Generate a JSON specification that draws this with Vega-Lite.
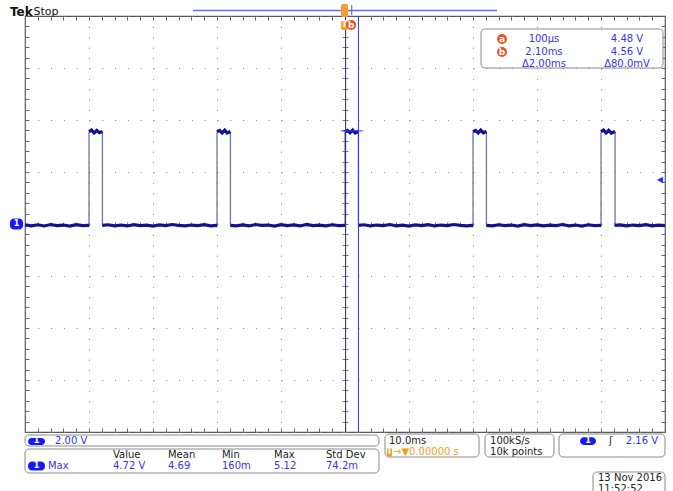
{
  "$schema": "https://vega.github.io/schema/vega-lite/v6.json",
  "width": 640,
  "height": 416,
  "autosize": {"type": "none"},
  "padding": {"left": 25, "top": 16, "right": 8, "bottom": 59},
  "background": "white",
  "config": {"view": {"stroke": "#5a5a5a", "strokeWidth": 1.2}, "font": "DejaVu Sans"},
  "resolve": {"axis": {"x": "independent", "y": "independent"}},
  "datasets": {
    "trace": [
      {"t": -50, "v": -0.035, "s": "L0"}, {"t": -49, "v": -0.07, "s": "L0"}, {"t": -48, "v": -0.03, "s": "L0"}, {"t": -47, "v": -0.075, "s": "L0"}, {"t": -46, "v": -0.02, "s": "L0"}, {"t": -45, "v": -0.06, "s": "L0"}, {"t": -44, "v": -0.04, "s": "L0"}, {"t": -43, "v": -0.08, "s": "L0"}, {"t": -42, "v": -0.025, "s": "L0"}, {"t": -41, "v": -0.065, "s": "L0"}, {"t": -40, "v": -0.05, "s": "L0"},
      {"t": -40, "v": 3.55, "s": "H1"}, {"t": -39.6, "v": 3.61, "s": "H1"}, {"t": -39.2, "v": 3.5, "s": "H1"}, {"t": -38.8, "v": 3.6, "s": "H1"}, {"t": -38.4, "v": 3.51, "s": "H1"}, {"t": -37.9, "v": 3.56, "s": "H1"},
      {"t": -37.9, "v": -0.05, "s": "L1"}, {"t": -37, "v": -0.03, "s": "L1"}, {"t": -36, "v": -0.07, "s": "L1"}, {"t": -35, "v": -0.04, "s": "L1"}, {"t": -34, "v": -0.075, "s": "L1"}, {"t": -33, "v": -0.025, "s": "L1"}, {"t": -32, "v": -0.06, "s": "L1"}, {"t": -31, "v": -0.045, "s": "L1"}, {"t": -30, "v": -0.08, "s": "L1"}, {"t": -29, "v": -0.035, "s": "L1"}, {"t": -28, "v": -0.065, "s": "L1"}, {"t": -27, "v": -0.02, "s": "L1"}, {"t": -26, "v": -0.055, "s": "L1"}, {"t": -25, "v": -0.075, "s": "L1"}, {"t": -24, "v": -0.04, "s": "L1"}, {"t": -23, "v": -0.065, "s": "L1"}, {"t": -22, "v": -0.025, "s": "L1"}, {"t": -21, "v": -0.07, "s": "L1"}, {"t": -20, "v": -0.05, "s": "L1"},
      {"t": -20, "v": 3.55, "s": "H2"}, {"t": -19.6, "v": 3.6, "s": "H2"}, {"t": -19.2, "v": 3.5, "s": "H2"}, {"t": -18.8, "v": 3.61, "s": "H2"}, {"t": -18.4, "v": 3.5, "s": "H2"}, {"t": -17.9, "v": 3.56, "s": "H2"},
      {"t": -17.9, "v": -0.05, "s": "L2"}, {"t": -17, "v": -0.07, "s": "L2"}, {"t": -16, "v": -0.035, "s": "L2"}, {"t": -15, "v": -0.075, "s": "L2"}, {"t": -14, "v": -0.02, "s": "L2"}, {"t": -13, "v": -0.055, "s": "L2"}, {"t": -12, "v": -0.04, "s": "L2"}, {"t": -11, "v": -0.08, "s": "L2"}, {"t": -10, "v": -0.025, "s": "L2"}, {"t": -9, "v": -0.065, "s": "L2"}, {"t": -8, "v": -0.035, "s": "L2"}, {"t": -7, "v": -0.075, "s": "L2"}, {"t": -6, "v": -0.015, "s": "L2"}, {"t": -5, "v": -0.06, "s": "L2"}, {"t": -4, "v": -0.045, "s": "L2"}, {"t": -3, "v": -0.07, "s": "L2"}, {"t": -2, "v": -0.03, "s": "L2"}, {"t": -1, "v": -0.065, "s": "L2"}, {"t": 0, "v": -0.05, "s": "L2"},
      {"t": 0, "v": 3.55, "s": "H3"}, {"t": 0.4, "v": 3.6, "s": "H3"}, {"t": 0.8, "v": 3.51, "s": "H3"}, {"t": 1.2, "v": 3.61, "s": "H3"}, {"t": 1.6, "v": 3.5, "s": "H3"}, {"t": 2.1, "v": 3.56, "s": "H3"},
      {"t": 2.1, "v": -0.05, "s": "L3"}, {"t": 3, "v": -0.03, "s": "L3"}, {"t": 4, "v": -0.075, "s": "L3"}, {"t": 5, "v": -0.04, "s": "L3"}, {"t": 6, "v": -0.065, "s": "L3"}, {"t": 7, "v": -0.02, "s": "L3"}, {"t": 8, "v": -0.07, "s": "L3"}, {"t": 9, "v": -0.045, "s": "L3"}, {"t": 10, "v": -0.08, "s": "L3"}, {"t": 11, "v": -0.035, "s": "L3"}, {"t": 12, "v": -0.06, "s": "L3"}, {"t": 13, "v": -0.025, "s": "L3"}, {"t": 14, "v": -0.075, "s": "L3"}, {"t": 15, "v": -0.04, "s": "L3"}, {"t": 16, "v": -0.065, "s": "L3"}, {"t": 17, "v": -0.02, "s": "L3"}, {"t": 18, "v": -0.055, "s": "L3"}, {"t": 19, "v": -0.075, "s": "L3"}, {"t": 20, "v": -0.05, "s": "L3"},
      {"t": 20, "v": 3.55, "s": "H4"}, {"t": 20.4, "v": 3.6, "s": "H4"}, {"t": 20.8, "v": 3.5, "s": "H4"}, {"t": 21.2, "v": 3.61, "s": "H4"}, {"t": 21.6, "v": 3.51, "s": "H4"}, {"t": 22.1, "v": 3.56, "s": "H4"},
      {"t": 22.1, "v": -0.05, "s": "L4"}, {"t": 23, "v": -0.07, "s": "L4"}, {"t": 24, "v": -0.03, "s": "L4"}, {"t": 25, "v": -0.065, "s": "L4"}, {"t": 26, "v": -0.04, "s": "L4"}, {"t": 27, "v": -0.08, "s": "L4"}, {"t": 28, "v": -0.025, "s": "L4"}, {"t": 29, "v": -0.06, "s": "L4"}, {"t": 30, "v": -0.035, "s": "L4"}, {"t": 31, "v": -0.075, "s": "L4"}, {"t": 32, "v": -0.045, "s": "L4"}, {"t": 33, "v": -0.065, "s": "L4"}, {"t": 34, "v": -0.02, "s": "L4"}, {"t": 35, "v": -0.07, "s": "L4"}, {"t": 36, "v": -0.04, "s": "L4"}, {"t": 37, "v": -0.08, "s": "L4"}, {"t": 38, "v": -0.03, "s": "L4"}, {"t": 39, "v": -0.06, "s": "L4"}, {"t": 40, "v": -0.05, "s": "L4"},
      {"t": 40, "v": 3.55, "s": "H5"}, {"t": 40.4, "v": 3.61, "s": "H5"}, {"t": 40.8, "v": 3.5, "s": "H5"}, {"t": 41.2, "v": 3.6, "s": "H5"}, {"t": 41.6, "v": 3.5, "s": "H5"}, {"t": 42.2, "v": 3.56, "s": "H5"},
      {"t": 42.2, "v": -0.05, "s": "L5"}, {"t": 43, "v": -0.035, "s": "L5"}, {"t": 44, "v": -0.075, "s": "L5"}, {"t": 45, "v": -0.04, "s": "L5"}, {"t": 46, "v": -0.065, "s": "L5"}, {"t": 47, "v": -0.025, "s": "L5"}, {"t": 48, "v": -0.07, "s": "L5"}, {"t": 49, "v": -0.045, "s": "L5"}, {"t": 50, "v": -0.06, "s": "L5"}
    ],
    "edges": [
      {"t": -40, "lo": -0.05, "hi": 3.55}, {"t": -37.9, "lo": -0.05, "hi": 3.55},
      {"t": -20, "lo": -0.05, "hi": 3.55}, {"t": -17.9, "lo": -0.05, "hi": 3.55},
      {"t": 0, "lo": -0.05, "hi": 3.55}, {"t": 2.1, "lo": -0.05, "hi": 3.55},
      {"t": 20, "lo": -0.05, "hi": 3.55}, {"t": 22.1, "lo": -0.05, "hi": 3.55},
      {"t": 40, "lo": -0.05, "hi": 3.55}, {"t": 42.2, "lo": -0.05, "hi": 3.55}
    ],
    "cursors": [{"t": 0.1, "name": "a"}, {"t": 2.1, "name": "b"}],
    "boxes": [
      {"x": 21.25, "x2": 49.69, "y": 7.5, "y2": 6.0},
      {"x": -50, "x2": 5.31, "y": -8.115, "y2": -8.538},
      {"x": -50, "x2": 5.31, "y": -8.654, "y2": -9.577},
      {"x": 6.25, "x2": 20.94, "y": -8.077, "y2": -8.962},
      {"x": 21.875, "x2": 32.66, "y": -8.077, "y2": -8.962},
      {"x": 33.44, "x2": 50, "y": -8.077, "y2": -8.962},
      {"x": 38.75, "x2": 50, "y": -9.538, "y2": -10.6}
    ],
    "badges": [
      {"x": -49.53, "x2": -46.875, "y": -8.23, "y2": -8.5},
      {"x": -49.53, "x2": -46.875, "y": -9.13, "y2": -9.48},
      {"x": 36.72, "x2": 39.22, "y": -8.2, "y2": -8.5},
      {"x": -52.35, "x2": -50.3, "y": 0.21, "y2": -0.21}
    ],
    "orangeTags": [
      {"x": -0.625, "x2": 0.47, "y": 8.46, "y2": 7.96},
      {"x": -0.625, "x2": 0.47, "y": 7.85, "y2": 7.46},
      {"x": 6.56, "x2": 7.34, "y": -8.6, "y2": -8.95}
    ],
    "circles": [
      {"x": 24.53, "x2": 0, "y": 7.115, "label": "a"},
      {"x": 24.53, "y": 6.615, "label": "b"},
      {"x": 0.97, "y": 7.654, "label": "b"}
    ],
    "texts": [
      {"x": -45.31, "y": -8.346, "label": "2.00 V", "role": "blueL"},
      {"x": -46.41, "y": -9.308, "label": "Max", "role": "blueL"},
      {"x": -36.25, "y": -9.308, "label": "4.72 V", "role": "blueL"},
      {"x": -27.66, "y": -9.308, "label": "4.69", "role": "blueL"},
      {"x": -19.22, "y": -9.308, "label": "160m", "role": "blueL"},
      {"x": -11.09, "y": -9.308, "label": "5.12", "role": "blueL"},
      {"x": -2.97, "y": -9.308, "label": "74.2m", "role": "blueL"},
      {"x": -36.25, "y": -8.885, "label": "Value", "role": "darkL"},
      {"x": -27.66, "y": -8.885, "label": "Mean", "role": "darkL"},
      {"x": -19.22, "y": -8.885, "label": "Min", "role": "darkL"},
      {"x": -11.09, "y": -8.885, "label": "Max", "role": "darkL"},
      {"x": -2.97, "y": -8.885, "label": "Std Dev", "role": "darkL"},
      {"x": 6.875, "y": -8.346, "label": "10.0ms", "role": "darkL"},
      {"x": 22.66, "y": -8.346, "label": "100kS/s", "role": "darkL"},
      {"x": 22.66, "y": -8.769, "label": "10k points", "role": "darkL"},
      {"x": 39.53, "y": -9.75, "label": "13 Nov 2016", "role": "darkL"},
      {"x": 39.53, "y": -10.2, "label": "11:52:52", "role": "darkL"},
      {"x": 41.25, "y": -8.346, "label": "ʃ", "role": "darkL"},
      {"x": 31.09, "y": 7.115, "label": "100µs", "role": "blueC"},
      {"x": 31.09, "y": 6.615, "label": "2.10ms", "role": "blueC"},
      {"x": 31.09, "y": 6.135, "label": "Δ2.00ms", "role": "blueC"},
      {"x": 44.06, "y": 7.115, "label": "4.48 V", "role": "blueC"},
      {"x": 44.06, "y": 6.615, "label": "4.56 V", "role": "blueC"},
      {"x": 44.06, "y": 6.135, "label": "Δ80.0mV", "role": "blueC"},
      {"x": 46.4, "y": -8.346, "label": "2.16 V", "role": "blueC"},
      {"x": 7.5, "y": -8.769, "label": "→▼0.00000 s", "role": "orange"},
      {"x": -48.2, "y": -8.365, "label": "1", "role": "white"},
      {"x": -48.2, "y": -9.305, "label": "1", "role": "white"},
      {"x": 37.97, "y": -8.35, "label": "1", "role": "white"},
      {"x": -51.33, "y": 0.0, "label": "1", "role": "white"},
      {"x": -0.08, "y": 7.655, "label": "T", "role": "white"},
      {"x": 6.95, "y": -8.775, "label": "T", "role": "white"},
      {"x": 49.2, "y": 1.69, "label": "◀", "role": "arrow"}
    ]
  },
  "layer": [
    {
      "mark": {"type": "rule", "color": "#c4c4c4", "strokeWidth": 1},
      "encoding": {
        "x": {"datum": -50, "type": "quantitative", "scale": {"domain": [-50, 50], "nice": false, "zero": false},
          "axis": {"orient": "bottom", "offset": -210, "values": [-50,-48,-46,-44,-42,-40,-38,-36,-34,-32,-30,-28,-26,-24,-22,-20,-18,-16,-14,-12,-10,-8,-6,-4,-2,0,2,4,6,8,10,12,14,16,18,20,22,24,26,28,30,32,34,36,38,40,42,44,46,48,50], "ticks": true, "tickSize": 4, "tickColor": "#777777", "domain": false, "labels": false, "grid": false, "title": null}},
        "x2": {"datum": 50},
        "y": {"datum": 0, "type": "quantitative", "scale": {"domain": [-8, 8], "nice": false, "zero": false},
          "axis": {"orient": "left", "offset": -323, "values": [-8,-7.6,-7.2,-6.8,-6.4,-6,-5.6,-5.2,-4.8,-4.4,-4,-3.6,-3.2,-2.8,-2.4,-2,-1.6,-1.2,-0.8,-0.4,0,0.4,0.8,1.2,1.6,2,2.4,2.8,3.2,3.6,4,4.4,4.8,5.2,5.6,6,6.4,6.8,7.2,7.6,8], "ticks": true, "tickSize": 6, "tickColor": "#777777", "domain": false, "labels": false, "grid": false, "title": null}}
      }
    },
    {
      "data": {"name": "edges"},
      "mark": {"type": "rule", "color": "#7070b8", "strokeWidth": 1.3},
      "encoding": {
        "x": {"field": "t", "type": "quantitative", "scale": {"domain": [-50, 50], "nice": false, "zero": false},
          "axis": {"orient": "bottom", "offset": -416, "values": [-50,-48,-46,-44,-42,-40,-38,-36,-34,-32,-30,-28,-26,-24,-22,-20,-18,-16,-14,-12,-10,-8,-6,-4,-2,0,2,4,6,8,10,12,14,16,18,20,22,24,26,28,30,32,34,36,38,40,42,44,46,48,50], "ticks": true, "tickSize": 4, "tickColor": "#666666", "domain": false, "labels": false, "grid": false, "title": null}},
        "y": {"field": "lo", "type": "quantitative", "scale": {"domain": [-8, 8], "nice": false, "zero": false},
          "axis": {"orient": "right", "offset": -640, "values": [-8,-7.6,-7.2,-6.8,-6.4,-6,-5.6,-5.2,-4.8,-4.4,-4,-3.6,-3.2,-2.8,-2.4,-2,-1.6,-1.2,-0.8,-0.4,0,0.4,0.8,1.2,1.6,2,2.4,2.8,3.2,3.6,4,4.4,4.8,5.2,5.6,6,6.4,6.8,7.2,7.6,8], "ticks": true, "tickSize": 4, "tickColor": "#666666", "domain": false, "labels": false, "grid": false, "title": null}},
        "y2": {"field": "hi"}
      }
    },
    {
      "data": {"name": "trace"},
      "mark": {"type": "line", "color": "#12128c", "strokeWidth": 3.2, "interpolate": "linear", "strokeJoin": "miter"},
      "encoding": {
        "x": {"field": "t", "type": "quantitative", "scale": {"domain": [-50, 50], "nice": false, "zero": false},
          "axis": {"orient": "bottom", "values": [-50,-40,-30,-20,-10,0,10,20,30,40,50], "grid": true, "gridDash": [1, 9.4], "gridColor": "#858585", "gridWidth": 1, "ticks": false, "labels": false, "domain": false, "title": null}},
        "y": {"field": "v", "type": "quantitative", "scale": {"domain": [-8, 8], "nice": false, "zero": false},
          "axis": {"orient": "left", "values": [-8,-6,-4,-2,0,2,4,6,8], "grid": true, "gridDash": [1, 11.8], "gridColor": "#858585", "gridWidth": 1, "ticks": false, "labels": false, "domain": false, "title": null}},
        "detail": {"field": "s", "type": "nominal"}
      }
    },
    {
      "data": {"name": "cursors"},
      "mark": {"type": "rule", "strokeWidth": 1},
      "encoding": {
        "x": {"field": "t", "type": "quantitative", "scale": {"domain": [-50, 50], "nice": false, "zero": false},
          "axis": {"orient": "top", "offset": -416, "values": [-50,-48,-46,-44,-42,-40,-38,-36,-34,-32,-30,-28,-26,-24,-22,-20,-18,-16,-14,-12,-10,-8,-6,-4,-2,0,2,4,6,8,10,12,14,16,18,20,22,24,26,28,30,32,34,36,38,40,42,44,46,48,50], "ticks": true, "tickSize": 4, "tickColor": "#666666", "domain": false, "labels": false, "grid": false, "title": null}},
        "y": {"datum": -8, "type": "quantitative", "scale": {"domain": [-8, 8], "nice": false, "zero": false},
          "axis": {"orient": "left", "offset": -640, "values": [-8,-7.6,-7.2,-6.8,-6.4,-6,-5.6,-5.2,-4.8,-4.4,-4,-3.6,-3.2,-2.8,-2.4,-2,-1.6,-1.2,-0.8,-0.4,0,0.4,0.8,1.2,1.6,2,2.4,2.8,3.2,3.6,4,4.4,4.8,5.2,5.6,6,6.4,6.8,7.2,7.6,8], "ticks": true, "tickSize": 4, "tickColor": "#666666", "domain": false, "labels": false, "grid": false, "title": null}},
        "y2": {"datum": 8},
        "color": {"field": "name", "type": "nominal", "scale": {"domain": ["a", "b"], "range": ["#26266e", "#3434ff"]}, "legend": null}
      }
    },
    {
      "data": {"values": [{"x": -0.6, "x2": 2.8, "y": 3.58}]},
      "mark": {"type": "rule", "color": "#3434ff", "strokeWidth": 1},
      "encoding": {
        "x": {"field": "x", "type": "quantitative", "scale": {"domain": [-50, 50], "nice": false, "zero": false}, "axis": null},
        "x2": {"field": "x2"},
        "y": {"field": "y", "type": "quantitative", "scale": {"domain": [-8, 8], "nice": false, "zero": false}, "axis": null}
      }
    },
    {
      "data": {"values": [{"x": -23.75, "x2": 23.75, "y": 8.21}]},
      "mark": {"type": "rule", "color": "#6a6af0", "strokeWidth": 1.5},
      "encoding": {
        "x": {"field": "x", "type": "quantitative", "scale": {"domain": [-50, 50], "nice": false, "zero": false}, "axis": null},
        "x2": {"field": "x2"},
        "y": {"field": "y", "type": "quantitative", "scale": {"domain": [-8, 8], "nice": false, "zero": false}, "axis": null}
      }
    },
    {
      "data": {"values": [{"x": 1.05, "y": 8.42, "y2": 8.04}]},
      "mark": {"type": "rule", "color": "#5050f0", "strokeWidth": 1},
      "encoding": {
        "x": {"field": "x", "type": "quantitative", "scale": {"domain": [-50, 50], "nice": false, "zero": false}, "axis": null},
        "y": {"field": "y", "type": "quantitative", "scale": {"domain": [-8, 8], "nice": false, "zero": false}, "axis": null},
        "y2": {"field": "y2"}
      }
    },
    {
      "data": {"name": "boxes"},
      "mark": {"type": "rect", "fill": "white", "stroke": "#8a8a8a", "strokeWidth": 1, "cornerRadius": 4},
      "encoding": {
        "x": {"field": "x", "type": "quantitative", "scale": {"domain": [-50, 50], "nice": false, "zero": false}, "axis": null},
        "x2": {"field": "x2"},
        "y": {"field": "y", "type": "quantitative", "scale": {"domain": [-8, 8], "nice": false, "zero": false}, "axis": null},
        "y2": {"field": "y2"}
      }
    },
    {
      "data": {"name": "badges"},
      "mark": {"type": "rect", "fill": "#1818f4", "cornerRadius": 4},
      "encoding": {
        "x": {"field": "x", "type": "quantitative", "scale": {"domain": [-50, 50], "nice": false, "zero": false}, "axis": null},
        "x2": {"field": "x2"},
        "y": {"field": "y", "type": "quantitative", "scale": {"domain": [-8, 8], "nice": false, "zero": false}, "axis": null},
        "y2": {"field": "y2"}
      }
    },
    {
      "data": {"name": "orangeTags"},
      "mark": {"type": "rect", "fill": "#f0a030", "cornerRadius": 2},
      "encoding": {
        "x": {"field": "x", "type": "quantitative", "scale": {"domain": [-50, 50], "nice": false, "zero": false}, "axis": null},
        "x2": {"field": "x2"},
        "y": {"field": "y", "type": "quantitative", "scale": {"domain": [-8, 8], "nice": false, "zero": false}, "axis": null},
        "y2": {"field": "y2"}
      }
    },
    {
      "data": {"name": "circles"},
      "mark": {"type": "point", "shape": "circle", "filled": true, "color": "#e8531f", "size": 100, "opacity": 1},
      "encoding": {
        "x": {"field": "x", "type": "quantitative", "scale": {"domain": [-50, 50], "nice": false, "zero": false}, "axis": null},
        "y": {"field": "y", "type": "quantitative", "scale": {"domain": [-8, 8], "nice": false, "zero": false}, "axis": null}
      }
    },
    {
      "data": {"name": "circles"},
      "mark": {"type": "text", "color": "white", "font": "DejaVu Sans", "fontSize": 9, "fontWeight": "bold", "align": "center", "baseline": "middle"},
      "encoding": {
        "x": {"field": "x", "type": "quantitative", "scale": {"domain": [-50, 50], "nice": false, "zero": false}, "axis": null},
        "y": {"field": "y", "type": "quantitative", "scale": {"domain": [-8, 8], "nice": false, "zero": false}, "axis": null},
        "text": {"field": "label"}
      }
    },
    {
      "data": {"name": "texts"},
      "transform": [{"filter": "datum.role === 'blueL'"}],
      "mark": {"type": "text", "color": "#3434ec", "font": "DejaVu Sans", "fontSize": 10, "align": "left", "baseline": "middle"},
      "encoding": {
        "x": {"field": "x", "type": "quantitative", "scale": {"domain": [-50, 50], "nice": false, "zero": false}, "axis": null},
        "y": {"field": "y", "type": "quantitative", "scale": {"domain": [-8, 8], "nice": false, "zero": false}, "axis": null},
        "text": {"field": "label"}
      }
    },
    {
      "data": {"name": "texts"},
      "transform": [{"filter": "datum.role === 'darkL'"}],
      "mark": {"type": "text", "color": "#222222", "font": "DejaVu Sans", "fontSize": 10, "align": "left", "baseline": "middle"},
      "encoding": {
        "x": {"field": "x", "type": "quantitative", "scale": {"domain": [-50, 50], "nice": false, "zero": false}, "axis": null},
        "y": {"field": "y", "type": "quantitative", "scale": {"domain": [-8, 8], "nice": false, "zero": false}, "axis": null},
        "text": {"field": "label"}
      }
    },
    {
      "data": {"name": "texts"},
      "transform": [{"filter": "datum.role === 'blueC'"}],
      "mark": {"type": "text", "color": "#3434ec", "font": "DejaVu Sans", "fontSize": 10, "align": "center", "baseline": "middle"},
      "encoding": {
        "x": {"field": "x", "type": "quantitative", "scale": {"domain": [-50, 50], "nice": false, "zero": false}, "axis": null},
        "y": {"field": "y", "type": "quantitative", "scale": {"domain": [-8, 8], "nice": false, "zero": false}, "axis": null},
        "text": {"field": "label"}
      }
    },
    {
      "data": {"name": "texts"},
      "transform": [{"filter": "datum.role === 'orange'"}],
      "mark": {"type": "text", "color": "#f0a020", "font": "DejaVu Sans", "fontSize": 10, "align": "left", "baseline": "middle"},
      "encoding": {
        "x": {"field": "x", "type": "quantitative", "scale": {"domain": [-50, 50], "nice": false, "zero": false}, "axis": null},
        "y": {"field": "y", "type": "quantitative", "scale": {"domain": [-8, 8], "nice": false, "zero": false}, "axis": null},
        "text": {"field": "label"}
      }
    },
    {
      "data": {"name": "texts"},
      "transform": [{"filter": "datum.role === 'white'"}],
      "mark": {"type": "text", "color": "white", "font": "DejaVu Sans", "fontSize": 8, "fontWeight": "bold", "align": "center", "baseline": "middle"},
      "encoding": {
        "x": {"field": "x", "type": "quantitative", "scale": {"domain": [-50, 50], "nice": false, "zero": false}, "axis": null},
        "y": {"field": "y", "type": "quantitative", "scale": {"domain": [-8, 8], "nice": false, "zero": false}, "axis": null},
        "text": {"field": "label"}
      }
    },
    {
      "data": {"name": "texts"},
      "transform": [{"filter": "datum.role === 'arrow'"}],
      "mark": {"type": "text", "color": "#2a2aff", "font": "DejaVu Sans", "fontSize": 8, "align": "center", "baseline": "middle"},
      "encoding": {
        "x": {"field": "x", "type": "quantitative", "scale": {"domain": [-50, 50], "nice": false, "zero": false}, "axis": null},
        "y": {"field": "y", "type": "quantitative", "scale": {"domain": [-8, 8], "nice": false, "zero": false}, "axis": null},
        "text": {"field": "label"}
      }
    },
    {
      "data": {"values": [{"x": -52.34, "y": 8.17, "label": "Tek"}]},
      "mark": {"type": "text", "color": "#111111", "font": "DejaVu Sans", "fontSize": 12, "fontWeight": "bold", "align": "left", "baseline": "middle", "letterSpacing": -0.8},
      "encoding": {
        "x": {"field": "x", "type": "quantitative", "scale": {"domain": [-50, 50], "nice": false, "zero": false}, "axis": null},
        "y": {"field": "y", "type": "quantitative", "scale": {"domain": [-8, 8], "nice": false, "zero": false}, "axis": null},
        "text": {"field": "label"}
      }
    },
    {
      "data": {"values": [{"x": -48.67, "y": 8.17, "label": "Stop"}]},
      "mark": {"type": "text", "color": "#111111", "font": "DejaVu Sans", "fontSize": 11, "align": "left", "baseline": "middle"},
      "encoding": {
        "x": {"field": "x", "type": "quantitative", "scale": {"domain": [-50, 50], "nice": false, "zero": false}, "axis": null},
        "y": {"field": "y", "type": "quantitative", "scale": {"domain": [-8, 8], "nice": false, "zero": false}, "axis": null},
        "text": {"field": "label"}
      }
    }
  ]
}
